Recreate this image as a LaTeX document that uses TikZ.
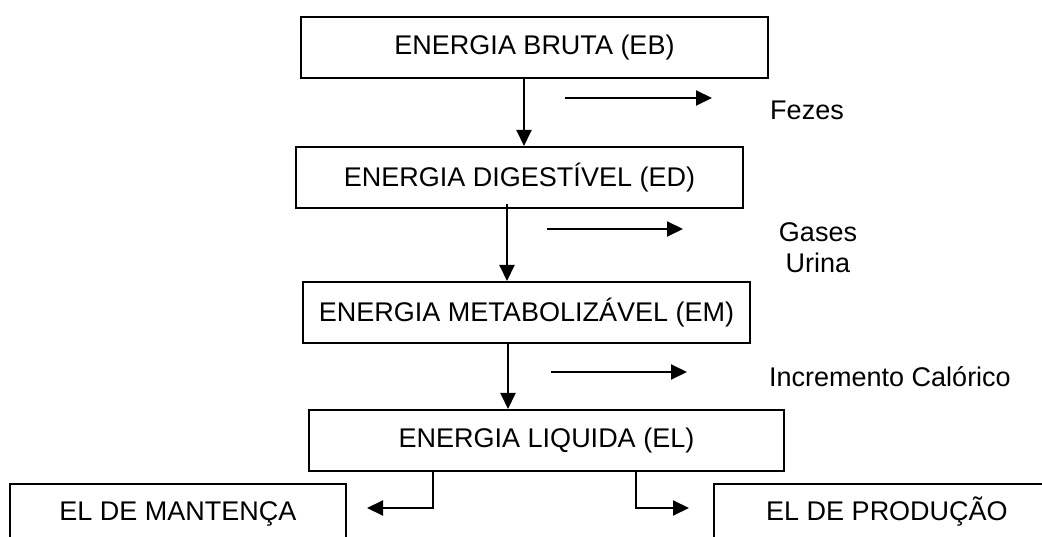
\documentclass[tikz,border=0pt]{standalone}
\usepackage{fontspec}
\setmainfont{Liberation Sans}
\usetikzlibrary{arrows.meta}
\begin{document}
\begin{tikzpicture}[x=1pt,y=-1pt,
  every node/.style={font=\fontsize{27pt}{31pt}\selectfont},
  ebox/.style={draw, line width=2pt, rectangle, inner sep=0pt},
  arr/.style={line width=2pt, -{Triangle[length=16pt,width=15pt]}},
  lbl/.style={inner sep=0pt, align=center}]
\useasboundingbox (0,0) rectangle (1042,537);
\clip (0,0) rectangle (1042,537);
% main boxes
\node[ebox, minimum width=467pt, minimum height=61pt] (eb) at (534.5,47.5) {ENERGIA BRUTA (EB)};
\node[ebox, minimum width=447pt, minimum height=61pt] (ed) at (519.5,177.5) {ENERGIA DIGESTÍVEL (ED)};
\node[ebox, minimum width=447pt, minimum height=61pt] (em) at (526.5,312.5) {ENERGIA METABOLIZÁVEL (EM)};
\node[ebox, minimum width=475pt, minimum height=61pt] (el) at (546.5,440.5) {ENERGIA LIQUIDA (EL)};
% bottom boxes (cut by the picture edge)
\node[ebox, minimum width=336pt, text height=36pt, text depth=60pt, anchor=north] (mant) at (178,483) {EL DE MANTENÇA};
\node[ebox, minimum width=346pt, text height=36pt, text depth=60pt, anchor=north] (prod) at (887,483) {EL DE PRODUÇÃO};
% vertical connectors
\draw[arr] (524,0 |- eb.south) -- (524,0 |- ed.north);
\draw[arr] ([yshift=5pt]507,0 |- ed.south) -- (507,0 |- em.north);
\draw[arr] (508,0 |- em.south) -- (508,0 |- el.north);
% loss arrows and labels
\coordinate (f1) at (565,98);  \coordinate (f2) at (712,98);
\coordinate (g1) at (547,229); \coordinate (g2) at (683,229);
\coordinate (i1) at (551,372); \coordinate (i2) at (687,372);
\draw[arr] (f1) -- (f2);
\draw[arr] (g1) -- (g2);
\draw[arr] (i1) -- (i2);
\node[lbl] (fez) at (807,110) {Fezes};
\node[lbl] (gas) at (818,247.5) {Gases\\Urina};
\node[lbl] (inc) at (890,377) {Incremento Calórico};
% branches from EL
\coordinate (lt) at (367,508);
\coordinate (rt) at (689,508);
\draw[arr] (433,0 |- el.south) |- (lt);
\draw[arr] (636,0 |- el.south) |- (rt);
\end{tikzpicture}
\end{document}
